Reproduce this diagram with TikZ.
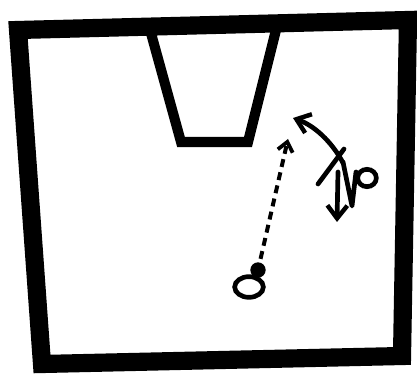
\documentclass[tikz,border=0pt]{standalone}
\usepackage{tikz}
\usetikzlibrary{arrows.meta, positioning, shapes}

\begin{document}
\begin{tikzpicture}[
    x=0.03cm, y=-0.03cm,
    court/.style={line width=15.5pt, line join=miter},
    lane/.style={line width=8.6pt, line join=miter},
    player/.style={draw, ellipse, line width=4pt, inner sep=0pt},
    ball/.style={circle, fill=black, inner sep=0pt, minimum size=0.46cm},
    pass/.style={-{Straight Barb[length=8pt, width=13pt, line width=3.2pt]}, line width=3.4pt, dash pattern=on 6.8pt off 4.7pt},
    cut/.style={-{Straight Barb[length=11pt, width=17pt, line width=3.8pt]}, line width=4pt, line cap=round},
    stroke/.style={line width=4pt, line cap=round, line join=round}
]
    \useasboundingbox (0,0) rectangle (417,374);

    % court and lane
    \draw[court] (18,30) -- (408,20) -- (402,356) -- (42,364) -- cycle;
    \draw[lane] (149,26) -- (181,142) -- (248,142) -- (277,26);

    % players
    \node[player, minimum width=0.86cm, minimum height=0.62cm] (shooter) at (249,287) {};
    \node[ball] (ball) at (258,270) {};
    \node[player, minimum width=0.56cm, minimum height=0.52cm] (wing) at (367,178) {};

    \coordinate (passend) at (288,139);
    \coordinate (cutstart) at (343,163);
    \coordinate (cutend) at (293,118);
    \coordinate (dropstart) at (338,172);
    \coordinate (dropend) at (337,222);

    % pass and cuts
    \draw[pass, shorten <=3pt] (ball) -- (passend);
    \draw[cut] (cutstart) .. controls (335,147) and (318,127) .. (cutend);
    \draw[cut] (dropstart) -- (dropend);

    % defender marks
    \draw[stroke] (318,184) -- (344,149);
    \draw[stroke] (343,162) -- (352,206) -- (356,172);
\end{tikzpicture}
\end{document}
